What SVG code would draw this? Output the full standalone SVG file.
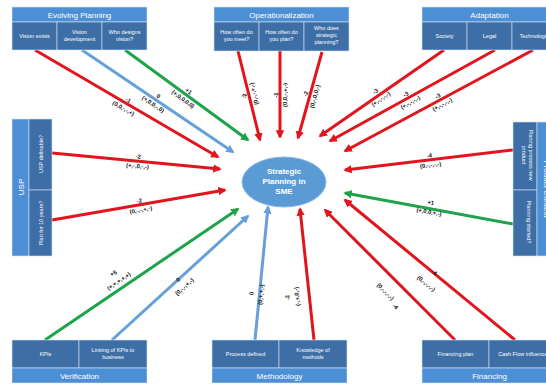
<svg xmlns="http://www.w3.org/2000/svg" width="546" height="386" viewBox="0 0 546 386">
<defs>
<style>
.hd{fill:#4d8fd4;stroke:#d6e4f3;stroke-width:0.6}
.cl{fill:#3d6ea6;stroke:#d6e4f3;stroke-width:0.6}
.ht{font-family:"Liberation Sans",Arial,sans-serif;font-size:8px;fill:#fff;text-anchor:middle}
.ct{font-family:"Liberation Sans",Arial,sans-serif;font-size:5.5px;fill:#fff;text-anchor:middle}
.r{stroke:#e2141d;stroke-width:3;fill:none;marker-end:url(#ar)}
.g{stroke:#1da349;stroke-width:3;fill:none;marker-end:url(#ag)}
.b{stroke:#65a0d9;stroke-width:3;fill:none;marker-end:url(#ab)}
.lb{font-family:"Liberation Sans",Arial,sans-serif;font-size:5.8px;font-weight:bold;fill:#111;text-anchor:middle}
.ce{font-family:"Liberation Sans",Arial,sans-serif;font-size:8px;font-weight:bold;fill:#fff;text-anchor:middle}
</style>
<marker id="ar" viewBox="0 0 10 10" refX="8" refY="5" markerWidth="2.8" markerHeight="2.8" orient="auto" markerUnits="strokeWidth"><path d="M0,0 L10,5 L0,10 z" fill="#e2141d"/></marker>
<marker id="ag" viewBox="0 0 10 10" refX="8" refY="5" markerWidth="2.8" markerHeight="2.8" orient="auto" markerUnits="strokeWidth"><path d="M0,0 L10,5 L0,10 z" fill="#1da349"/></marker>
<marker id="ab" viewBox="0 0 10 10" refX="8" refY="5" markerWidth="2.8" markerHeight="2.8" orient="auto" markerUnits="strokeWidth"><path d="M0,0 L10,5 L0,10 z" fill="#65a0d9"/></marker>
</defs>
<rect width="546" height="386" fill="#fff"/>

<g id="connectors">
<line class="r" x1="35" y1="50" x2="218" y2="157"/>
<line class="b" x1="82" y1="50" x2="233" y2="152"/>
<line class="g" x1="125" y1="50" x2="248" y2="140"/>
<line class="r" x1="238" y1="51" x2="260" y2="140"/>
<line class="r" x1="280" y1="51" x2="280" y2="137"/>
<line class="r" x1="322" y1="52" x2="298" y2="138"/>
<line class="r" x1="444" y1="50" x2="320" y2="136"/>
<line class="r" x1="495" y1="50" x2="330" y2="141"/>
<line class="r" x1="533" y1="50" x2="345" y2="151"/>
<line class="r" x1="52" y1="153" x2="220" y2="169"/>
<line class="r" x1="52" y1="220" x2="225" y2="190"/>
<line class="r" x1="513" y1="150" x2="345" y2="170"/>
<line class="g" x1="513" y1="224" x2="345" y2="193"/>
<line class="g" x1="45" y1="340" x2="238" y2="209"/>
<line class="b" x1="112" y1="340" x2="248" y2="216"/>
<line class="b" x1="255" y1="340" x2="268" y2="207"/>
<line class="r" x1="314" y1="340" x2="300" y2="209"/>
<line class="r" x1="455" y1="340" x2="325" y2="210"/>
<line class="r" x1="515" y1="340" x2="345" y2="200"/>
</g>

<g id="labels">
<g transform="translate(126,104) rotate(30)"><text class="lb" y="-2.5">-1</text><text class="lb" y="7">(0,0,-,-,+)</text></g>
<g transform="translate(156,100) rotate(34)"><text class="lb" y="-2.5">0</text><text class="lb" y="7">(+,0,0,-,0)</text></g>
<g transform="translate(186,95) rotate(36)"><text class="lb" y="-2.5">+1</text><text class="lb" y="7">(+,0,0,0,0)</text></g>
<g transform="translate(249,95) rotate(-104)"><text class="lb" y="-2.5">-2</text><text class="lb" y="7">(0,-,-,+,-)</text></g>
<g transform="translate(280,95) rotate(-90)"><text class="lb" y="-2.5">-1</text><text class="lb" y="7">(0,0,-,+,-)</text></g>
<g transform="translate(310,95) rotate(-74)"><text class="lb" y="-2.5">-2</text><text class="lb" y="7">(0,-,0,0,-)</text></g>
<g transform="translate(378,95) rotate(-35)"><text class="lb" y="-2.5">-3</text><text class="lb" y="7">(+,-,-,-,-)</text></g>
<g transform="translate(408,98) rotate(-29)"><text class="lb" y="-2.5">-3</text><text class="lb" y="7">(+,-,-,-,-)</text></g>
<g transform="translate(440,100) rotate(-28)"><text class="lb" y="-2.5">-3</text><text class="lb" y="7">(+,-,-,-,-)</text></g>
<g transform="translate(138,161) rotate(5)"><text class="lb" y="-2.5">-2</text><text class="lb" y="7">(+,-,0,-,-)</text></g>
<g transform="translate(140,205) rotate(-10)"><text class="lb" y="-2.5">-2</text><text class="lb" y="7">(0,-,-,+,-)</text></g>
<g transform="translate(430,160) rotate(-7)"><text class="lb" y="-2.5">-4</text><text class="lb" y="7">(0,-,-,-,-)</text></g>
<g transform="translate(430,207) rotate(10.5)"><text class="lb" y="-2.5">+1</text><text class="lb" y="7">(+,0,0,+,-)</text></g>
<g transform="translate(116,277) rotate(-34)"><text class="lb" y="-2.5">+5</text><text class="lb" y="7">(+,+,+,+,+)</text></g>
<g transform="translate(181,283) rotate(-42)"><text class="lb" y="-2.5">0</text><text class="lb" y="7">(0,-,-,+,-)</text></g>
<g transform="translate(256,294) rotate(-84)"><text class="lb" y="-2.5">0</text><text class="lb" y="7">(0,+,+,-)</text></g>
<g transform="translate(292,297) rotate(-96)"><text class="lb" y="-2.5">-2</text><text class="lb" y="7">(-,+,0,-)</text></g>
<text class="lb" transform="translate(384,293) rotate(45)">(0,-,-,-,-)</text>
<text class="lb" transform="translate(394,308) rotate(45)">-4</text>
<text class="lb" transform="translate(433,274) rotate(39.5)">-4</text>
<text class="lb" transform="translate(425,285) rotate(39.5)">(0,-,-,-,-)</text>
</g>

<g id="center">
<ellipse cx="284" cy="182" rx="42" ry="25" fill="#5b9bd5" stroke="#8db8e6" stroke-width="1"/>
<text class="ce" x="284" y="174">Strategic</text>
<text class="ce" x="284" y="184">Planning in</text>
<text class="ce" x="284" y="194">SME</text>
</g>

<g id="evolving-planning">
<rect class="hd" x="12" y="7" width="135" height="15"/>
<rect class="cl" x="12" y="22" width="45" height="28"/>
<rect class="cl" x="57" y="22" width="45" height="28"/>
<rect class="cl" x="102" y="22" width="45" height="28"/>
<text class="ht" x="79.5" y="18">Evolving Planning</text>
<text class="ct" x="34.5" y="38">Vision exists</text>
<text class="ct" x="79.5" y="34">Vision</text><text class="ct" x="79.5" y="41">development</text>
<text class="ct" x="124.5" y="34">Who designs</text><text class="ct" x="124.5" y="41">vision?</text>
</g>

<g id="operationalization">
<rect class="hd" x="214" y="7" width="135" height="15"/>
<rect class="cl" x="214" y="22" width="45" height="29"/>
<rect class="cl" x="259" y="22" width="45" height="29"/>
<rect class="cl" x="304" y="22" width="45" height="29"/>
<text class="ht" x="281.5" y="18">Operationalization</text>
<text class="ct" x="236.5" y="34">How often do</text><text class="ct" x="236.5" y="41">you meet?</text>
<text class="ct" x="281.5" y="34">How often do</text><text class="ct" x="281.5" y="41">you plan?</text>
<text class="ct" x="326.5" y="30">Who does</text><text class="ct" x="326.5" y="37">strategic</text><text class="ct" x="326.5" y="44">planning?</text>
</g>

<g id="adaptation">
<rect class="hd" x="422" y="7" width="135" height="15"/>
<rect class="cl" x="422" y="22" width="45" height="28"/>
<rect class="cl" x="467" y="22" width="45" height="28"/>
<rect class="cl" x="512" y="22" width="45" height="28"/>
<text class="ht" x="489.5" y="18">Adaptation</text>
<text class="ct" x="444.5" y="38">Society</text>
<text class="ct" x="489.5" y="38">Legal</text>
<text class="ct" x="534.5" y="38">Technologie</text>
</g>

<g id="usp">
<rect class="hd" x="12" y="119" width="17" height="137"/>
<rect class="cl" x="29" y="119" width="23" height="71"/>
<rect class="cl" x="29" y="190" width="23" height="66"/>
<text class="ht" transform="translate(23.5,187) rotate(-90)">USP</text>
<text class="ct" transform="translate(42.5,154) rotate(-90)">USP definable?</text>
<text class="ct" transform="translate(42.5,223) rotate(-90)">Plan for 10 years?</text>
</g>

<g id="product-context">
<rect class="cl" x="513" y="122" width="24" height="68"/>
<rect class="cl" x="513" y="190" width="24" height="66"/>
<rect class="hd" x="537" y="122" width="20" height="134"/>
<text class="ht" transform="translate(544,189) rotate(90)">Product Context</text>
<text class="ct" transform="translate(529,155) rotate(90)">Planing process new</text>
<text class="ct" transform="translate(522,155) rotate(90)">product</text>
<text class="ct" transform="translate(527,222) rotate(90)">Planning started?</text>
</g>

<g id="verification">
<rect class="cl" x="12" y="340" width="67" height="28"/>
<rect class="cl" x="79" y="340" width="68" height="28"/>
<rect class="hd" x="12" y="368" width="135" height="15"/>
<text class="ct" x="45.5" y="356">KPIs</text>
<text class="ct" x="113" y="352">Linking of KPIs to</text><text class="ct" x="113" y="359">business</text>
<text class="ht" x="79.5" y="379">Verification</text>
</g>

<g id="methodology">
<rect class="cl" x="212" y="340" width="67" height="28"/>
<rect class="cl" x="279" y="340" width="68" height="28"/>
<rect class="hd" x="212" y="368" width="135" height="15"/>
<text class="ct" x="245.5" y="356">Process defined</text>
<text class="ct" x="313" y="352">Knowledge of</text><text class="ct" x="313" y="359">methods</text>
<text class="ht" x="279.5" y="379">Methodology</text>
</g>

<g id="financing">
<rect class="cl" x="422" y="340" width="67" height="28"/>
<rect class="cl" x="489" y="340" width="68" height="28"/>
<rect class="hd" x="422" y="368" width="135" height="15"/>
<text class="ct" x="455.5" y="356">Financing plan</text>
<text class="ct" x="523" y="356">Cash Flow influence</text>
<text class="ht" x="489.5" y="379">Financing</text>
</g>
</svg>
